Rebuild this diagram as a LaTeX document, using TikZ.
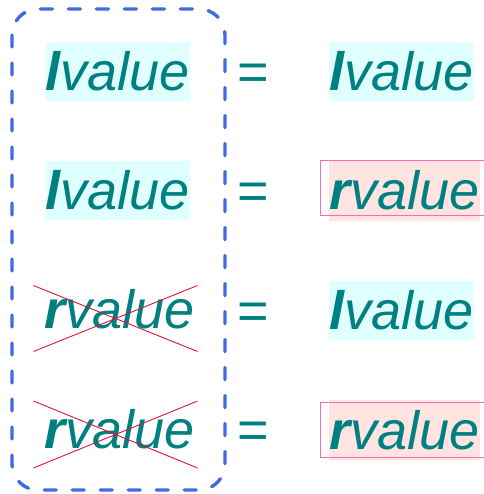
\documentclass[tikz,border=0pt]{standalone}
\usepackage{fontspec}
\setmainfont{Liberation Sans}
\usepackage{tikz}
\usetikzlibrary{shapes}

\definecolor{valtext}{RGB}{0,128,128}
\definecolor{lhsblue}{RGB}{65,105,225}
\definecolor{lfill}{RGB}{224,255,255}
\definecolor{rfill}{RGB}{255,228,225}
\definecolor{rline}{RGB}{255,105,180}
\definecolor{xline}{RGB}{220,20,60}

\newcommand{\lword}{{\bfseries\itshape l}{\itshape value}}
\newcommand{\rword}{{\bfseries\itshape r}{\itshape value}}

\begin{document}
\begin{tikzpicture}[x=1pt, y=-1pt]
\path[use as bounding box, fill=white] (0,0) rectangle (483,494);

% left hand sides
\draw[lhsblue, line width=3.4pt, line cap=round, dash pattern=on 12pt off 16pt, rounded corners=26pt]
  (12,9) rectangle (225,490);

\begin{scope}[every node/.style={text=valtext, inner sep=0pt, font=\fontsize{54}{60}\selectfont}]
  \node[fill=lfill, minimum width=144pt, minimum height=59pt] (L1) at (118,71.5) {\lword};
  \node[fill=lfill, minimum width=144pt, minimum height=59pt] (L2) at (118,190.5) {\lword};
  \node (L3) at (120,309.5) {\rword};
  \node (L4) at (120,429) {\rword};

  \node (E1) at (253.5,77) {=};
  \node (E2) at (253.5,196.5) {=};
  \node (E3) at (253.5,316) {=};
  \node (E4) at (253.5,435.5) {=};

  \node[fill=lfill, minimum width=143pt, minimum height=59pt] (R1) at (401.5,71.5) {\lword};
  \node[fill=rfill, minimum width=149pt, minimum height=60pt] (R2) at (404.5,190.5) {\rword};
  \node[fill=lfill, minimum width=143pt, minimum height=59pt] (R3) at (401.5,310) {\lword};
  \node[fill=rfill, minimum width=149pt, minimum height=60pt] (R4) at (404.5,430) {\rword};
\end{scope}

% marks
\begin{scope}[every node/.style={inner sep=0pt, line width=0.9pt}]
  \node[draw=rline, minimum width=165pt, minimum height=55pt] (B2) at (402.5,187.5) {};
  \node[draw=rline, minimum width=165pt, minimum height=55pt] (B4) at (402.5,429.5) {};
  \node[cross out, draw=xline, minimum width=163pt, minimum height=65pt] (X3) at (115.5,318.5) {};
  \node[cross out, draw=xline, minimum width=163pt, minimum height=66pt] (X4) at (115.5,434.5) {};
\end{scope}

\end{tikzpicture}
\end{document}
